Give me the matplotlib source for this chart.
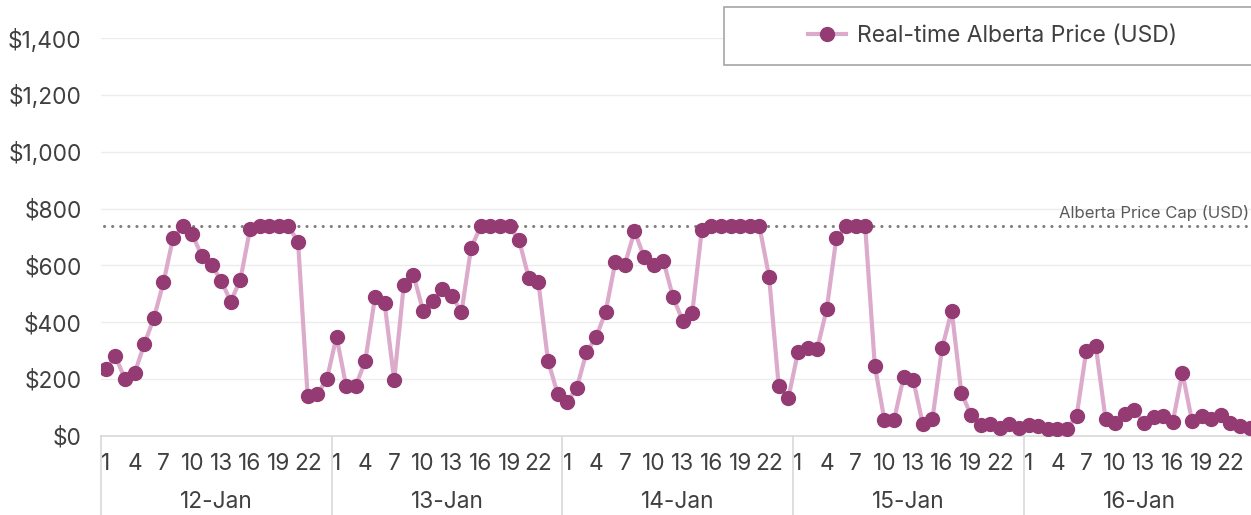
import numpy as np
import matplotlib
matplotlib.use("Agg")
import matplotlib.pyplot as plt
from matplotlib.patches import Rectangle

plt.rcParams['font.family'] = ['Inter', 'DejaVu Sans']

# Stundenwerte je Tag (USD/MWh)
days = ['12-Jan', '13-Jan', '14-Jan', '15-Jan', '16-Jan']
day1 = [235, 280, 200, 221, 323, 415, 540, 697, 737, 709, 632, 603,
        546, 473, 550, 727, 737, 737, 737, 737, 684, 139, 147, 200]
day2 = [350, 176, 176, 265, 488, 468, 197, 531, 568, 441, 476, 517,
        494, 435, 662, 737, 737, 737, 737, 688, 556, 541, 265, 149]
day3 = [118, 170, 294, 347, 437, 611, 603, 721, 629, 600, 617, 490,
        406, 431, 725, 737, 737, 737, 737, 737, 737, 561, 176, 133]
day4 = [294, 311, 306, 447, 696, 737, 737, 737, 247, 56, 56, 208,
        197, 41, 61, 309, 441, 153, 73, 39, 41, 29, 41, 28]
day5 = [39, 35, 24, 24, 26, 71, 300, 315, 61, 44, 79, 92,
        44, 67, 71, 50, 223, 52, 71, 61, 73, 44, 35, 29]
hour_labels = [1, 4, 7, 10, 13, 16, 19, 22]
price_cap = 737

prices = np.array(day1 + day2 + day3 + day4 + day5)
n = len(prices)
x = np.arange(n) + 0.5

W, H = 1251, 515
fig = plt.figure(figsize=(W / 100, H / 100), dpi=100)
ax = fig.add_axes([101 / W, 1 - 436 / H, (1254.5 - 101) / W, (436 - 38) / H])

grey_txt = '#404040'
sep_col = '#d9d9d9'
fs = 16.3

# Gitter
ax.set_ylim(0, 1400)
ax.set_xlim(0, n)
ax.set_yticks(np.arange(0, 1401, 200))
ax.set_yticklabels(['${:,.0f}'.format(v) for v in np.arange(0, 1401, 200)])
ax.grid(axis='y', color='#ececec', linewidth=1)
ax.set_axisbelow(True)
for s in ['top', 'right', 'left']:
    ax.spines[s].set_visible(False)
ax.spines['bottom'].set_color(sep_col)
ax.spines['bottom'].set_linewidth(1.2)

# Preisdeckel
ax.axhline(price_cap, xmin=0.003, xmax=0.993, color='#7f7f7f', linewidth=2.2,
           linestyle=(0, (0.05, 2.6)), dash_capstyle='round', zorder=2)
ax.text(0.9955, price_cap + 20, 'Alberta Price Cap (USD)', transform=ax.get_yaxis_transform(),
        ha='right', va='bottom', fontsize=12, color='#595959')

# Preislinie
ax.plot(x, prices, color='#dcaacb', linewidth=3, marker='o', markersize=10,
        markerfacecolor='#953b74', markeredgecolor='#953b74', zorder=3,
        label='Real-time Alberta Price (USD)')

# x-Achse: Stunden + Tage
ticks = []
labels = []
for d in range(len(days)):
    for h in hour_labels:
        ticks.append(d * 24 + h - 0.5)
        labels.append(str(h))
ax.set_xticks(ticks)
ax.set_xticklabels(labels)
ax.tick_params(axis='x', length=0, pad=12.5, labelsize=fs, colors=grey_txt)
ax.tick_params(axis='y', length=0, pad=14, labelsize=fs, colors=grey_txt)

trans = ax.get_xaxis_transform()
for d in range(len(days) + 1):
    ax.plot([d * 24, d * 24], [0, -0.21], transform=trans, color=sep_col,
            linewidth=1.2, clip_on=False)
for d, name in enumerate(days):
    ax.text(d * 24 + 12, -0.165, name, transform=trans, ha='center', va='center',
            fontsize=fs, color=grey_txt)

# Legende
fig.patches.append(Rectangle((724 / W, 1 - 65 / H), (540) / W, 58 / H,
                             transform=fig.transFigure, facecolor='white',
                             edgecolor='#a6a6a6', linewidth=1.2))
leg = fig.legend(loc='center left', bbox_to_anchor=(808 / W, 1 - 36 / H), frameon=False,
                 fontsize=16.5, handlelength=1.65, handletextpad=0.5, borderpad=0,
                 borderaxespad=0, labelcolor=grey_txt)

fig.savefig('out.png', dpi=100)
